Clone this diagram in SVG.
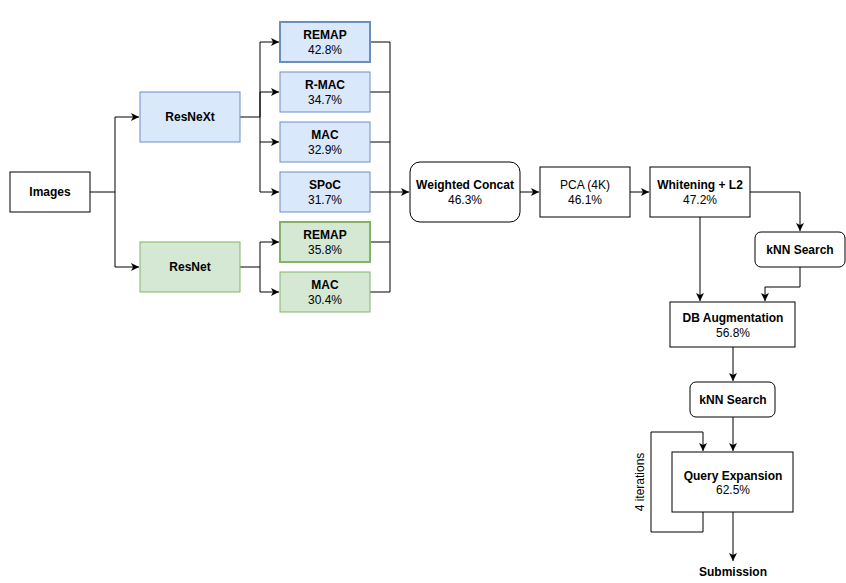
<svg xmlns="http://www.w3.org/2000/svg" width="846" height="583" viewBox="0 0 846 583">
<style>
text{font-family:"Liberation Sans",Arial,sans-serif;font-size:12px;fill:#000;text-anchor:middle}
.b{font-weight:bold}
.box{fill:#fff;stroke:#000;stroke-width:1}
.blue{fill:#dae8fc;stroke:#6c8ebf;stroke-width:1}
.green{fill:#d5e8d4;stroke:#82b366;stroke-width:1}
.thick{stroke-width:2}
.edge{fill:none;stroke:#000;stroke-width:1}
</style>
<defs>
<marker id="arr" markerUnits="userSpaceOnUse" markerWidth="10" markerHeight="10" refX="8" refY="4" orient="auto">
<path d="M0,0 L8,4 L0,8 L2,4 Z" fill="#000"/>
</marker>
</defs>
<rect width="846" height="583" fill="#fff"/>
<g id="connectors">
<path class="edge" d="M90,192 H115 V117 H139" marker-end="url(#arr)"/>
<path class="edge" d="M115,192 V267 H139" marker-end="url(#arr)"/>
<path class="edge" d="M240,117 H260 V42 H279" marker-end="url(#arr)"/>
<path class="edge" d="M260,117 V92 H279" marker-end="url(#arr)"/>
<path class="edge" d="M260,117 V142 H279" marker-end="url(#arr)"/>
<path class="edge" d="M260,142 V192 H279" marker-end="url(#arr)"/>
<path class="edge" d="M240,267 H260 V242 H279" marker-end="url(#arr)"/>
<path class="edge" d="M260,267 V292 H279" marker-end="url(#arr)"/>
<path class="edge" d="M370,42 H390 V292 H370"/>
<path class="edge" d="M370,92 H390 M370,142 H390 M370,242 H390"/>
<path class="edge" d="M370,192 H409" marker-end="url(#arr)"/>
<path class="edge" d="M520,192 H539" marker-end="url(#arr)"/>
<path class="edge" d="M630,192 H649" marker-end="url(#arr)"/>
<path class="edge" d="M750,192 H800 V231" marker-end="url(#arr)"/>
<path class="edge" d="M700,217 V301" marker-end="url(#arr)"/>
<path class="edge" d="M800,267 V287 H765 V301" marker-end="url(#arr)"/>
<path class="edge" d="M733,347 V381" marker-end="url(#arr)"/>
<path class="edge" d="M733,417 V451" marker-end="url(#arr)"/>
<path class="edge" d="M703,512 V532 H651 V432 H703 V451" marker-end="url(#arr)"/>
<path class="edge" d="M733,512 V561" marker-end="url(#arr)"/>
</g>
<g id="images"><rect class="box" x="10" y="172" width="80" height="40"/><text class="b" x="50" y="196">Images</text></g>
<g id="resnext"><rect class="blue" x="140" y="92" width="100" height="50"/><text class="b" x="190" y="121">ResNeXt</text></g>
<g id="resnet"><rect class="green" x="140" y="242" width="100" height="50"/><text class="b" x="190" y="271">ResNet</text></g>
<g id="remap1"><rect class="blue thick" x="280" y="22" width="90" height="40"/><text class="b" x="325" y="39">REMAP</text><text x="325" y="54">42.8%</text></g>
<g id="rmac"><rect class="blue" x="280" y="72" width="90" height="40"/><text class="b" x="325" y="89">R-MAC</text><text x="325" y="104">34.7%</text></g>
<g id="mac1"><rect class="blue" x="280" y="122" width="90" height="40"/><text class="b" x="325" y="139">MAC</text><text x="325" y="154">32.9%</text></g>
<g id="spoc"><rect class="blue" x="280" y="172" width="90" height="40"/><text class="b" x="325" y="189">SPoC</text><text x="325" y="204">31.7%</text></g>
<g id="remap2"><rect class="green thick" x="280" y="222" width="90" height="40"/><text class="b" x="325" y="239">REMAP</text><text x="325" y="254">35.8%</text></g>
<g id="mac2"><rect class="green" x="280" y="272" width="90" height="40"/><text class="b" x="325" y="289">MAC</text><text x="325" y="304">30.4%</text></g>
<g id="concat"><rect class="box" x="410" y="162" width="110" height="60" rx="10"/><text class="b" x="465" y="189">Weighted Concat</text><text x="465" y="204">46.3%</text></g>
<g id="pca"><rect class="box" x="540" y="167" width="90" height="50"/><text x="585" y="189">PCA (4K)</text><text x="585" y="204">46.1%</text></g>
<g id="whitening"><rect class="box" x="650" y="167" width="100" height="50"/><text class="b" x="700" y="189">Whitening + L2</text><text x="700" y="204">47.2%</text></g>
<g id="knn1"><rect class="box" x="755" y="232" width="90" height="35" rx="6"/><text class="b" x="800" y="254">kNN Search</text></g>
<g id="dbaug"><rect class="box" x="670" y="302" width="125" height="45"/><text class="b" x="733" y="322">DB Augmentation</text><text x="733" y="337">56.8%</text></g>
<g id="knn2"><rect class="box" x="690" y="382" width="85" height="35" rx="6"/><text class="b" x="733" y="404">kNN Search</text></g>
<g id="qe"><rect class="box" x="672" y="452" width="121" height="60"/><text class="b" x="733" y="480">Query Expansion</text><text x="733" y="494">62.5%</text></g>
<g id="iterations"><text transform="translate(644,482) rotate(-90)" x="0" y="0">4 iterations</text></g>
<g id="submission"><text class="b" x="733" y="576">Submission</text></g>
</svg>
